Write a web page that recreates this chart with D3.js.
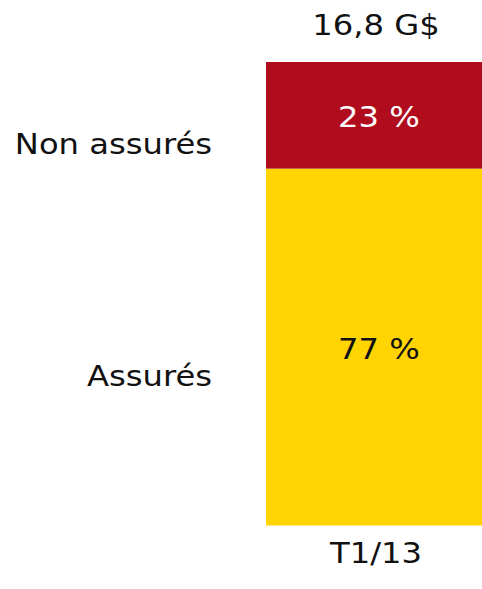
<!DOCTYPE html>
<html>
<head>
<meta charset="utf-8">
<script src="https://cdn.jsdelivr.net/npm/d3@7"></script>
<style>
  body { margin: 0; background: #fff; }
  text { font-family: "DejaVu Sans", Verdana, sans-serif; }
</style>
</head>
<body>
<div id="chart"></div>
<script>
// data
const categories = ['Assurés', 'Non assurés'];
const shares = [77, 23];          // % of total, bottom to top
const segColors = ['#ffd400', '#b00c1e'];
const labelColors = ['#111', '#fff'];
const period = ['T1/13'];
const totals = ['16,8 G$'];

const W = 482, H = 589;
const fontSize = 28;
const stretch = 1.15; // text in the original is drawn a bit wide

const svg = d3.select('#chart').append('svg')
  .attr('width', W)
  .attr('height', H);

const x = d3.scaleBand()
  .domain(period)
  .range([266, 486])
  .padding(0);

const y = d3.scaleLinear()
  .domain([0, 100])
  .range([525.5, 62]);

// helper: place a text with horizontal stretch around its anchor
const place = (px, py) => `translate(${px},${py}) scale(${stretch},1)`;

// stack the segments
const stack = [];
let acc = 0;
shares.forEach((v, i) => {
  stack.push({ cat: categories[i], v: v, y0: acc, y1: acc + v, i: i });
  acc += v;
});

svg.selectAll('rect.seg')
  .data(stack)
  .join('rect')
  .attr('class', 'seg')
  .attr('x', x(period[0]))
  .attr('width', x.bandwidth())
  .attr('y', d => y(d.y1))
  .attr('height', d => y(d.y0) - y(d.y1))
  .style('fill', d => segColors[d.i]);

const cx = x(period[0]) + 110;

// value labels inside bar
svg.selectAll('text.val')
  .data(stack)
  .join('text')
  .attr('class', 'val')
  .attr('transform', d => place(cx + 3, (y(d.y0) + y(d.y1)) / 2 + 11.5))
  .attr('text-anchor', 'middle')
  .style('font-size', fontSize + 'px')
  .style('fill', d => labelColors[d.i])
  .text(d => d.v + ' %');

// category labels on the left
svg.selectAll('text.cat')
  .data(stack)
  .join('text')
  .attr('class', 'cat')
  .attr('transform', d => place(212, (y(d.y0) + y(d.y1)) / 2 + 38.5))
  .attr('text-anchor', 'end')
  .style('font-size', fontSize + 'px')
  .style('fill', '#111')
  .text(d => d.cat);

// total on top
svg.append('text')
  .attr('transform', place(cx, 35))
  .attr('text-anchor', 'middle')
  .style('font-size', fontSize + 'px')
  .style('fill', '#111')
  .text(totals[0]);

// period axis label
svg.append('text')
  .attr('transform', place(cx, 563))
  .attr('text-anchor', 'middle')
  .style('font-size', fontSize + 'px')
  .style('fill', '#111')
  .text(period[0]);
</script>
</body>
</html>
